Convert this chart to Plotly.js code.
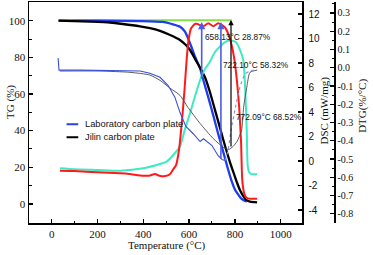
<!DOCTYPE html>
<html>
<head>
<meta charset="utf-8">
<script src="https://cdn.plot.ly/plotly-3.0.1.min.js"></script>
<style>html,body{margin:0;padding:0;background:#fff;}#chart{width:373px;height:255px;}</style>
</head>
<body>
<div id="chart"></div>
<script>
// ---------- data ----------
const labTG_T = [30, 211, 386, 486, 525, 561, 582, 604, 626, 648, 662, 683, 705, 726, 748, 771, 787, 800, 814, 827, 844, 852];
const labTG   = [100, 100, 99.8, 99.3, 98.2, 96.7, 94.0, 87.7, 80.4, 74.0, 67.6, 58.6, 48.6, 38.7, 28.9, 18.5, 12.0, 7.9, 5.2, 3.0, 1.6, 1.35];

const jilinTG_T = [30, 167, 255, 311, 386, 429, 473, 517, 560, 586, 604, 633, 669, 691, 713, 735, 757, 779, 796, 809, 822, 836, 849, 866, 897];
const jilinTG   = [100, 99.5, 99.0, 98.2, 96.9, 95.9, 94.4, 92.2, 89.5, 86.7, 84.0, 77.6, 69.3, 61.1, 51.3, 41.5, 31.6, 22.6, 16.4, 11.7, 7.6, 4.4, 2.2, 1.3, 0.9];

const redDSC_T = [36, 100, 200, 300, 340, 400, 430, 451, 470, 490, 515, 530, 543, 556, 569, 580, 589, 597, 608, 626, 633, 662, 684, 706, 727, 757, 778, 796, 809, 820, 827, 832, 840, 848, 862, 897];
const redDSC   = [-0.79, -0.82, -0.92, -1.0, -1.06, -1.2, -1.18, -1.06, -1.2, -1.25, -1.1, -0.7, -0.33, 0.9, 3.3, 5.8, 8.2, 9.8, 10.8, 11.2, 11.2, 11.0, 11.24, 11.0, 11.24, 10.9, 10.0, 8.5, 6.5, 4.0, 1.5, -1.5, -2.6, -2.95, -3.07, -3.08];

const cyanDSC_T = [36, 100, 200, 300, 400, 458, 502, 531, 560, 582, 604, 626, 648, 669, 691, 713, 735, 757, 779, 805, 824, 837, 844, 849, 852, 856, 862, 870, 897];
const cyanDSC   = [-0.6, -0.68, -0.73, -0.79, -0.6, -0.33, -0.05, 0.49, 1.2, 2.6, 3.9, 5.3, 6.6, 7.5, 8.1, 8.9, 9.35, 9.7, 9.85, 9.7, 9.0, 8.2, 6.3, 4.0, 2.3, -0.4, -0.9, -1.05, -1.09];

const labDTG_T = [28, 32, 124, 298, 386, 429, 473, 508, 538, 560, 586, 617, 648, 663, 678, 700, 726, 744, 757];
const labDTG   = [0.053, -0.013, -0.013, -0.016, -0.018, -0.030, -0.052, -0.096, -0.161, -0.244, -0.321, -0.360, -0.404, -0.389, -0.404, -0.426, -0.480, -0.502, -0.508];
const labDTG2_T = [757, 770, 783, 800, 822, 844, 866, 897];
const labDTG2   = [-0.508, -0.453, -0.343, -0.232, -0.106, -0.035, -0.018, -0.008];

const jilinDTG_T = [36, 211, 342, 429, 473, 517, 560, 595, 648, 705, 748, 772, 792, 809, 829, 838, 852, 866, 897];
const jilinDTG   = [-0.018, -0.018, -0.025, -0.040, -0.069, -0.112, -0.151, -0.217, -0.305, -0.387, -0.434, -0.448, -0.431, -0.404, -0.343, -0.217, -0.106, -0.025, -0.013];

const greenT  = [90, 786];
const greenTG = [100.3, 100.3];

const arrowT      = [655, 739, 783];
const arrowTop    = [99.3, 99.3, 100.4];
const arrowBottom = [67.6, 24.0, 30.5];
const arrowColors = ['#4a5de6', '#4a5de6', '#000000'];

const peakLabels = ['658.13°C 28.87%', '722.10°C 58.32%', '772.09°C 68.52%'];
const peakLabelT  = [660, 740, 798];
const peakLabelTG = [91.3, 75.8, 47.6];

const legendNames = ['Laboratory carbon plate', 'Jilin carbon plate'];
const legendColors = ['#2a44e0', '#000000'];

const xTicks = [0, 200, 400, 600, 800, 1000];
const tgTicks = [0, 20, 40, 60, 80, 100];
const dscTicks = [-4, -2, 0, 2, 4, 6, 8, 10, 12];
const dscTickText = ['-4', '-2', '0', '2', '4', '6', '8', '10', '12'];
const dtgTicks = [-0.8, -0.7, -0.6, -0.5, -0.4, -0.3, -0.2, -0.1, 0.0, 0.1, 0.2, 0.3];
const dtgTickText = ['-0.8', '-0.7', '-0.6', '-0.5', '-0.4', '-0.3', '-0.2', '-0.1', '0.0', '0.1', '0.2', '0.3'];

// ---------- figure ----------
const SERIF = 'Liberation Serif, Times New Roman, serif';
const SANS = 'Liberation Sans, Arial, sans-serif';

const traces = [
  {x: greenT, y: greenTG, yaxis: 'y', mode: 'lines', line: {color: '#84e044', width: 2}, showlegend: false},
  {x: cyanDSC_T, y: cyanDSC, yaxis: 'y2', mode: 'lines', line: {color: '#3eeac2', width: 2, shape: 'spline', smoothing: 0.6}, showlegend: false},
  {x: redDSC_T, y: redDSC, yaxis: 'y2', mode: 'lines', line: {color: '#ff1a1a', width: 2, shape: 'spline', smoothing: 0.6}, showlegend: false},
  {x: jilinDTG_T, y: jilinDTG, yaxis: 'y3', mode: 'lines', line: {color: '#4a4a4a', width: 0.9, shape: 'spline', smoothing: 0.6}, showlegend: false},
  {x: labDTG_T, y: labDTG, yaxis: 'y3', mode: 'lines', line: {color: '#3a50d8', width: 1.1}, showlegend: false},
  {x: labDTG2_T, y: labDTG2, yaxis: 'y3', mode: 'lines', line: {color: '#7f8fe8', width: 1.1, dash: 'dot', shape: 'spline', smoothing: 0.6}, showlegend: false},
  {x: labTG_T, y: labTG, yaxis: 'y', mode: 'lines', line: {color: '#1f3cf0', width: 2.3, shape: 'spline', smoothing: 0.6}, showlegend: false},
  {x: jilinTG_T, y: jilinTG, yaxis: 'y', mode: 'lines', line: {color: '#000000', width: 2.3, shape: 'spline', smoothing: 0.6}, showlegend: false}
];

const annotations = [];
for (let i = 0; i < arrowT.length; i++) {
  annotations.push({
    x: arrowT[i], y: arrowTop[i], xref: 'x', yref: 'y',
    ax: arrowT[i], ay: arrowBottom[i], axref: 'x', ayref: 'y',
    text: '', showarrow: true, arrowhead: 2, arrowsize: 0.9, arrowwidth: i < 2 ? 1.6 : 1.2,
    arrowcolor: arrowColors[i], standoff: 0, startstandoff: 0
  });
}
for (let i = 0; i < peakLabels.length; i++) {
  annotations.push({
    x: peakLabelT[i], y: peakLabelTG[i], xref: 'x', yref: 'y', xanchor: 'left', yanchor: 'middle',
    text: peakLabels[i], showarrow: false, font: {family: SANS, size: 8.3, color: '#111'}
  });
}
// legend texts
const legendY = [43.5, 36.4];
for (let i = 0; i < legendNames.length; i++) {
  annotations.push({
    x: 136, y: legendY[i], xref: 'x', yref: 'y', xanchor: 'left', yanchor: 'middle',
    text: legendNames[i], showarrow: false, font: {family: SANS, size: 9.3, color: '#111'}
  });
}
// axis titles
annotations.push({x: -0.063, y: 0.547, xref: 'paper', yref: 'paper', text: 'TG (%)', textangle: -90, showarrow: false, xanchor: 'center', yanchor: 'middle', font: {family: SERIF, size: 11, color: '#111'}});
annotations.push({x: 0.452, y: -0.104, xref: 'paper', yref: 'paper', text: 'Temperature (°C)', showarrow: false, xanchor: 'center', yanchor: 'middle', font: {family: SERIF, size: 11, color: '#111'}});
annotations.push({x: 0.968, y: 0.51, xref: 'paper', yref: 'paper', text: 'DSC (mW/mg)', textangle: -90, showarrow: false, xanchor: 'center', yanchor: 'middle', font: {family: SERIF, size: 11, color: '#111'}});
annotations.push({x: 1.095, y: 0.53, xref: 'paper', yref: 'paper', text: 'DTG(%/°C)', textangle: -90, showarrow: false, xanchor: 'center', yanchor: 'middle', font: {family: SERIF, size: 11, color: '#111'}});

const shapes = legendNames.map((n, i) => ({
  type: 'line', xref: 'x', yref: 'y', x0: 65, x1: 116, y0: legendY[i], y1: legendY[i],
  line: {color: legendColors[i], width: 2}
}));

const axisCommon = {
  showgrid: false, zeroline: false, showline: true, linecolor: '#000', linewidth: 1.5,
  ticks: 'inside', ticklen: 4, tickwidth: 1.2, tickcolor: '#000'
};

const layout = {
  width: 373, height: 255,
  margin: {l: 29, r: 39, t: 2, b: 32, pad: 0},
  paper_bgcolor: '#fff', plot_bgcolor: '#fff',
  showlegend: false,
  xaxis: Object.assign({}, axisCommon, {
    domain: [0, 273 / 305], range: [-99, 1093], tickvals: xTicks, mirror: true,
    minor: {ticks: 'inside', ticklen: 2.5, tickwidth: 1, dtick: 100, tick0: 0, tickcolor: '#000'},
    tickfont: {family: SERIF, size: 11, color: '#111'}
  }),
  yaxis: Object.assign({}, axisCommon, {
    range: [-10.4, 110.2], tickvals: tgTicks,
    minor: {ticks: 'inside', ticklen: 2.5, tickwidth: 1, dtick: 10, tick0: 0, tickcolor: '#000'},
    tickfont: {family: SERIF, size: 11, color: '#111'}
  }),
  yaxis2: Object.assign({}, axisCommon, {
    overlaying: 'y', side: 'right', anchor: 'x', range: [-5.06, 12.98],
    tickvals: dscTicks, ticktext: dscTickText, ticklabelstandoff: 3,
    minor: {ticks: 'inside', ticklen: 2.5, tickwidth: 1, dtick: 1, tick0: 0, tickcolor: '#000'},
    tickfont: {family: SANS, size: 10, color: '#111'}
  }),
  yaxis3: Object.assign({}, axisCommon, {
    overlaying: 'y', side: 'right', anchor: 'free', position: 1.0, range: [-0.85, 0.36],
    tickvals: dtgTicks, ticktext: dtgTickText,
    minor: {ticks: 'inside', ticklen: 2.5, tickwidth: 1, dtick: 0.05, tick0: 0, tickcolor: '#000'},
    tickfont: {family: SERIF, size: 10, color: '#111'}
  }),
  annotations: annotations,
  shapes: shapes
};

Plotly.newPlot('chart', traces, layout, {displayModeBar: false, staticPlot: true});
</script>
</body>
</html>
